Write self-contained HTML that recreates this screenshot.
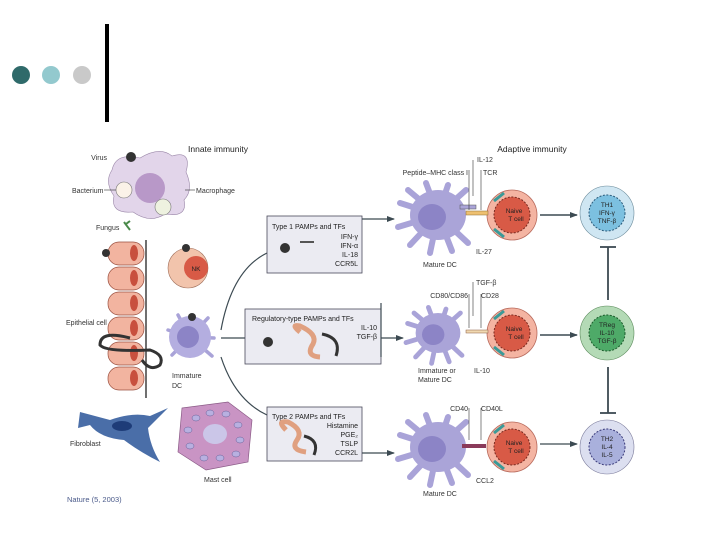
<!DOCTYPE html>
<html><head><meta charset="utf-8"><style>
html,body{margin:0;padding:0;background:#fff;}
svg{display:block;font-family:"Liberation Sans",sans-serif;}
</style></head><body>
<svg width="720" height="540" viewBox="0 0 720 540" xmlns="http://www.w3.org/2000/svg">
<defs>
<marker id="ar" markerWidth="8" markerHeight="8" refX="7" refY="4" orient="auto" markerUnits="userSpaceOnUse"><path d="M0,1 L8,4 L0,7 z" fill="#3c4a52"/></marker>
<g id="dcBig">
 <g stroke="#a9a3d8" stroke-width="6" stroke-linecap="round">
  <line x1="0" y1="0" x2="-38" y2="-12"/><line x1="0" y1="0" x2="-30" y2="-25"/>
  <line x1="0" y1="0" x2="-12" y2="-32"/><line x1="0" y1="0" x2="10" y2="-30"/>
  <line x1="0" y1="0" x2="28" y2="-25"/><line x1="0" y1="0" x2="-40" y2="12"/>
  <line x1="0" y1="0" x2="-28" y2="30"/><line x1="0" y1="0" x2="-8" y2="38"/>
  <line x1="0" y1="0" x2="14" y2="36"/><line x1="0" y1="0" x2="30" y2="28"/>
 </g>
 <ellipse cx="0" cy="0" rx="28" ry="25" fill="#aaa4d8"/>
 <ellipse cx="-6" cy="2" rx="14" ry="13" fill="#8c84c6"/>
</g>
<g id="naive">
 <circle r="25" fill="#f4b4a2" stroke="#b86a5c" stroke-width="0.8"/>
 <circle r="18" fill="#d85a46" stroke="#7a2a20" stroke-dasharray="2 1.5" stroke-width="1"/>
 <line x1="-18" y1="-14" x2="-8" y2="-22" stroke="#3a9a98" stroke-width="3"/>
 <line x1="-18" y1="14" x2="-8" y2="22" stroke="#3a9a98" stroke-width="3"/>
</g>
</defs>

<circle cx="21" cy="75" r="9" fill="#2f6a6a"/>
<circle cx="51" cy="75" r="9" fill="#93c9ce"/>
<circle cx="82" cy="75" r="9" fill="#c9c9c9"/>
<rect x="105" y="24" width="4" height="98" fill="#000"/>

<text x="218" y="152" font-size="8.5" fill="#222" text-anchor="middle">Innate immunity</text>
<text x="532" y="152" font-size="8.5" fill="#222" text-anchor="middle">Adaptive immunity</text>

<!-- macrophage -->
<path d="M112,170 Q116,152 140,158 Q160,146 172,156 Q192,150 186,172 Q194,190 184,200 Q188,218 165,214 Q150,224 133,212 Q110,214 114,196 Q104,182 112,170 z" fill="#e2d5ea" stroke="#9a86a8" stroke-width="0.6"/>
<circle cx="150" cy="188" r="15" fill="#b898c8"/>
<circle cx="124" cy="190" r="8" fill="#fbf2e8" stroke="#777" stroke-width="0.6"/>
<circle cx="163" cy="207" r="8" fill="#eef2e0" stroke="#777" stroke-width="0.6"/>
<circle cx="131" cy="157" r="5" fill="#333"/>
<text x="107" y="160" font-size="7" fill="#333" text-anchor="end">Virus</text>
<text x="72" y="193" font-size="7" fill="#333">Bacterium</text>
<line x1="104" y1="190" x2="116" y2="190" stroke="#333" stroke-width="0.6"/>
<text x="196" y="193" font-size="7" fill="#333">Macrophage</text>
<line x1="185" y1="190" x2="195" y2="190" stroke="#333" stroke-width="0.6"/>
<text x="96" y="230" font-size="7" fill="#333">Fungus</text>
<path d="M124,222 l6,8 M126,224 l4,-3" stroke="#4a8a4a" stroke-width="2"/>

<g fill="#f2b4a0" stroke="#9a5040" stroke-width="0.7">
<rect x="108" y="242" width="36" height="23" rx="11"/>
<rect x="108" y="267" width="36" height="23" rx="11"/>
<rect x="108" y="292" width="36" height="23" rx="11"/>
<rect x="108" y="317" width="36" height="23" rx="11"/>
<rect x="108" y="342" width="36" height="23" rx="11"/>
<rect x="108" y="367" width="36" height="23" rx="11"/>
</g>
<g fill="#c8503e">
<ellipse cx="134" cy="253" rx="4" ry="8"/><ellipse cx="134" cy="278" rx="4" ry="8"/>
<ellipse cx="134" cy="303" rx="4" ry="8"/><ellipse cx="134" cy="328" rx="4" ry="8"/>
<ellipse cx="134" cy="353" rx="4" ry="8"/><ellipse cx="134" cy="378" rx="4" ry="8"/>
</g>
<circle cx="106" cy="253" r="4" fill="#333"/>
<line x1="146" y1="240" x2="146" y2="398" stroke="#222" stroke-width="1.3"/>
<path d="M130,338 Q100,330 100,345 Q105,352 150,350 Q165,355 160,365 Q150,372 142,360" fill="none" stroke="#333" stroke-width="3"/>
<text x="66" y="325" font-size="7" fill="#333">Epithelial cell</text>

<circle cx="188" cy="268" r="20" fill="#f2c4ac" stroke="#a0705c" stroke-width="0.6"/>
<circle cx="196" cy="268" r="12" fill="#d85a46"/>
<text x="196" y="271" font-size="6.5" fill="#222" text-anchor="middle">NK</text>
<circle cx="186" cy="248" r="4" fill="#333"/>

<g stroke="#a9a3d8" stroke-width="3.5" stroke-linecap="round">
<line x1="190" y1="337" x2="168" y2="330"/><line x1="190" y1="337" x2="208" y2="318"/>
<line x1="190" y1="337" x2="172" y2="355"/><line x1="190" y1="337" x2="212" y2="356"/>
<line x1="190" y1="337" x2="214" y2="338"/><line x1="190" y1="337" x2="178" y2="315"/>
</g>
<circle cx="190" cy="337" r="21" fill="#b4aee0"/>
<circle cx="188" cy="337" r="11" fill="#8c84c6"/>
<circle cx="192" cy="317" r="4" fill="#333"/>
<text x="172" y="378" font-size="7" fill="#333">Immature</text>
<text x="172" y="388" font-size="7" fill="#333">DC</text>

<path d="M80,412 L110,420 Q132,412 150,416 L168,408 L148,428 Q150,446 160,462 Q140,452 124,440 Q100,438 90,425 L78,428 Z" fill="#4a6ea8"/>
<ellipse cx="122" cy="426" rx="10" ry="5" fill="#1e3c78"/>
<text x="70" y="446" font-size="7" fill="#333">Fibroblast</text>

<path d="M182,408 L228,402 L252,420 L248,462 L206,470 L178,452 Z" fill="#c994c4" stroke="#8a5a86" stroke-width="0.7"/>
<ellipse cx="215" cy="434" rx="12" ry="10" fill="#cbc6e8"/>
<g fill="#b8b0e0" stroke="#6a6098" stroke-width="0.5">
<ellipse cx="196" cy="418" rx="4" ry="3"/><ellipse cx="210" cy="413" rx="4" ry="3"/><ellipse cx="226" cy="414" rx="4" ry="3"/>
<ellipse cx="238" cy="425" rx="4" ry="3"/><ellipse cx="240" cy="440" rx="4" ry="3"/><ellipse cx="236" cy="454" rx="4" ry="3"/>
<ellipse cx="220" cy="458" rx="4" ry="3"/><ellipse cx="204" cy="458" rx="4" ry="3"/><ellipse cx="190" cy="446" rx="4" ry="3"/>
<ellipse cx="188" cy="430" rx="4" ry="3"/>
</g>
<text x="204" y="482" font-size="7" fill="#333">Mast cell</text>

<text x="67" y="502" font-size="7.5" fill="#4a5a8a">Nature (5, 2003)</text>

<path d="M221,330 Q232,270 267,253" fill="none" stroke="#3c4a52" stroke-width="1.2"/>
<line x1="221" y1="338" x2="245" y2="338" stroke="#3c4a52" stroke-width="1.2"/>
<path d="M221,357 Q235,400 267,415" fill="none" stroke="#3c4a52" stroke-width="1.2"/>

<g fill="#ebebf2" stroke="#4a4a5a" stroke-width="0.8">
<rect x="267" y="216" width="95" height="57"/>
<rect x="245" y="309" width="136" height="55"/>
<rect x="267" y="407" width="95" height="54"/>
</g>
<g font-size="7" fill="#222">
<text x="272" y="229">Type 1 PAMPs and TFs</text>
<text x="358" y="239" text-anchor="end">IFN-γ</text>
<text x="358" y="248" text-anchor="end">IFN-α</text>
<text x="358" y="257" text-anchor="end">IL-18</text>
<text x="358" y="266" text-anchor="end">CCR5L</text>
<text x="252" y="321">Regulatory-type PAMPs and TFs</text>
<text x="377" y="330" text-anchor="end">IL-10</text>
<text x="377" y="339" text-anchor="end">TGF-β</text>
<text x="272" y="419">Type 2 PAMPs and TFs</text>
<text x="358" y="428" text-anchor="end">Histamine</text>
<text x="358" y="437" text-anchor="end">PGE₂</text>
<text x="358" y="446" text-anchor="end">TSLP</text>
<text x="358" y="455" text-anchor="end">CCR2L</text>
</g>
<circle cx="285" cy="248" r="5" fill="#333"/>
<path d="M300,242 h14" stroke="#555" stroke-width="2"/>
<circle cx="268" cy="342" r="5" fill="#333"/>
<path d="M300,332 Q290,324 300,326 Q318,334 313,344 Q305,356 320,357" fill="none" stroke="#e0a080" stroke-width="5"/>
<path d="M322,334 Q342,338 336,356" fill="none" stroke="#333" stroke-width="3"/>
<path d="M286,430 Q276,420 288,422 Q304,430 297,440 Q290,450 306,452" fill="none" stroke="#e0a080" stroke-width="5"/>
<path d="M304,436 Q320,440 314,455" fill="none" stroke="#333" stroke-width="3"/>

<line x1="362" y1="219" x2="394" y2="219" stroke="#3c4a52" stroke-width="1.2" marker-end="url(#ar)"/>
<line x1="381" y1="303" x2="381" y2="357" stroke="#3c4a52" stroke-width="1.2"/>
<line x1="381" y1="338" x2="403" y2="338" stroke="#3c4a52" stroke-width="1.2" marker-end="url(#ar)"/>
<line x1="362" y1="453" x2="394" y2="453" stroke="#3c4a52" stroke-width="1.2" marker-end="url(#ar)"/>

<use href="#dcBig" x="438" y="215"/>
<g transform="translate(438,333) scale(0.8)"><use href="#dcBig"/></g>
<use href="#dcBig" x="438" y="447"/>

<use href="#naive" x="512" y="215"/>
<use href="#naive" x="512" y="333"/>
<use href="#naive" x="512" y="447"/>
<g font-size="6.5" fill="#222" text-anchor="middle">
<text x="514" y="213">Naive</text><text x="516" y="221">T cell</text>
<text x="514" y="331">Naive</text><text x="516" y="339">T cell</text>
<text x="514" y="445">Naive</text><text x="516" y="453">T cell</text>
</g>
<rect x="466" y="211" width="22" height="4" fill="#eec070" stroke="#8a6a30" stroke-width="0.5"/>
<rect x="460" y="205" width="16" height="4" fill="#aaa4d8" stroke="#555" stroke-width="0.5"/>
<rect x="466" y="330" width="22" height="3" fill="#f0d8b0" stroke="#8a5a40" stroke-width="0.5"/>
<rect x="462" y="444" width="24" height="4" fill="#8a3a5a"/>

<g font-size="7" fill="#333">
<text x="477" y="162">IL-12</text>
<text x="468" y="175" text-anchor="end">Peptide–MHC class I</text>
<text x="483" y="175">TCR</text>
<text x="476" y="254">IL-27</text>
<text x="423" y="267">Mature DC</text>
<text x="476" y="285">TGF-β</text>
<text x="468" y="298" text-anchor="end">CD80/CD86</text>
<text x="481" y="298">CD28</text>
<text x="418" y="373">Immature or</text>
<text x="418" y="382">Mature DC</text>
<text x="474" y="373">IL-10</text>
<text x="468" y="411" text-anchor="end">CD40</text>
<text x="481" y="411">CD40L</text>
<text x="476" y="483">CCL2</text>
<text x="423" y="496">Mature DC</text>
</g>
<g stroke="#333" stroke-width="0.6" fill="none">
<path d="M469,170 V210 M473,160 V196 M481,170 V210"/>
<path d="M469,294 V328 M473,282 V316 M481,294 V328"/>
<path d="M469,408 V440 M481,408 V440"/>
</g>

<line x1="540" y1="215" x2="577" y2="215" stroke="#3c4a52" stroke-width="1.5" marker-end="url(#ar)"/>
<line x1="540" y1="335" x2="577" y2="335" stroke="#3c4a52" stroke-width="1.5" marker-end="url(#ar)"/>
<line x1="540" y1="444" x2="577" y2="444" stroke="#3c4a52" stroke-width="1.2" marker-end="url(#ar)"/>

<circle cx="607" cy="213" r="27" fill="#cfe6f2" stroke="#6a8a9a" stroke-width="0.6"/>
<circle cx="607" cy="213" r="18" fill="#7cc0e0" stroke="#2a5a7a" stroke-dasharray="2 1.5"/>
<circle cx="607" cy="333" r="27" fill="#b4dab6" stroke="#5a8a5a" stroke-width="0.6"/>
<circle cx="607" cy="333" r="18" fill="#4eaa68" stroke="#1a5a2a" stroke-dasharray="2 1.5"/>
<circle cx="607" cy="447" r="27" fill="#dcdff0" stroke="#7a7a9a" stroke-width="0.6"/>
<circle cx="607" cy="447" r="18" fill="#a9b0dc" stroke="#3a3a7a" stroke-dasharray="2 1.5"/>
<g font-size="6.5" fill="#222" text-anchor="middle">
<text x="607" y="207">TH1</text><text x="607" y="215">IFN-γ</text><text x="607" y="223">TNF-β</text>
<text x="607" y="327">TReg</text><text x="607" y="335">IL-10</text><text x="607" y="343">TGF-β</text>
<text x="607" y="441">TH2</text><text x="607" y="449">IL-4</text><text x="607" y="457">IL-5</text>
</g>
<g stroke="#3c4a52" stroke-width="1.8">
<line x1="608" y1="247" x2="608" y2="300"/><line x1="600" y1="247" x2="616" y2="247"/>
<line x1="608" y1="367" x2="608" y2="413"/><line x1="600" y1="413" x2="616" y2="413"/>
</g>
</svg>
</body></html>
